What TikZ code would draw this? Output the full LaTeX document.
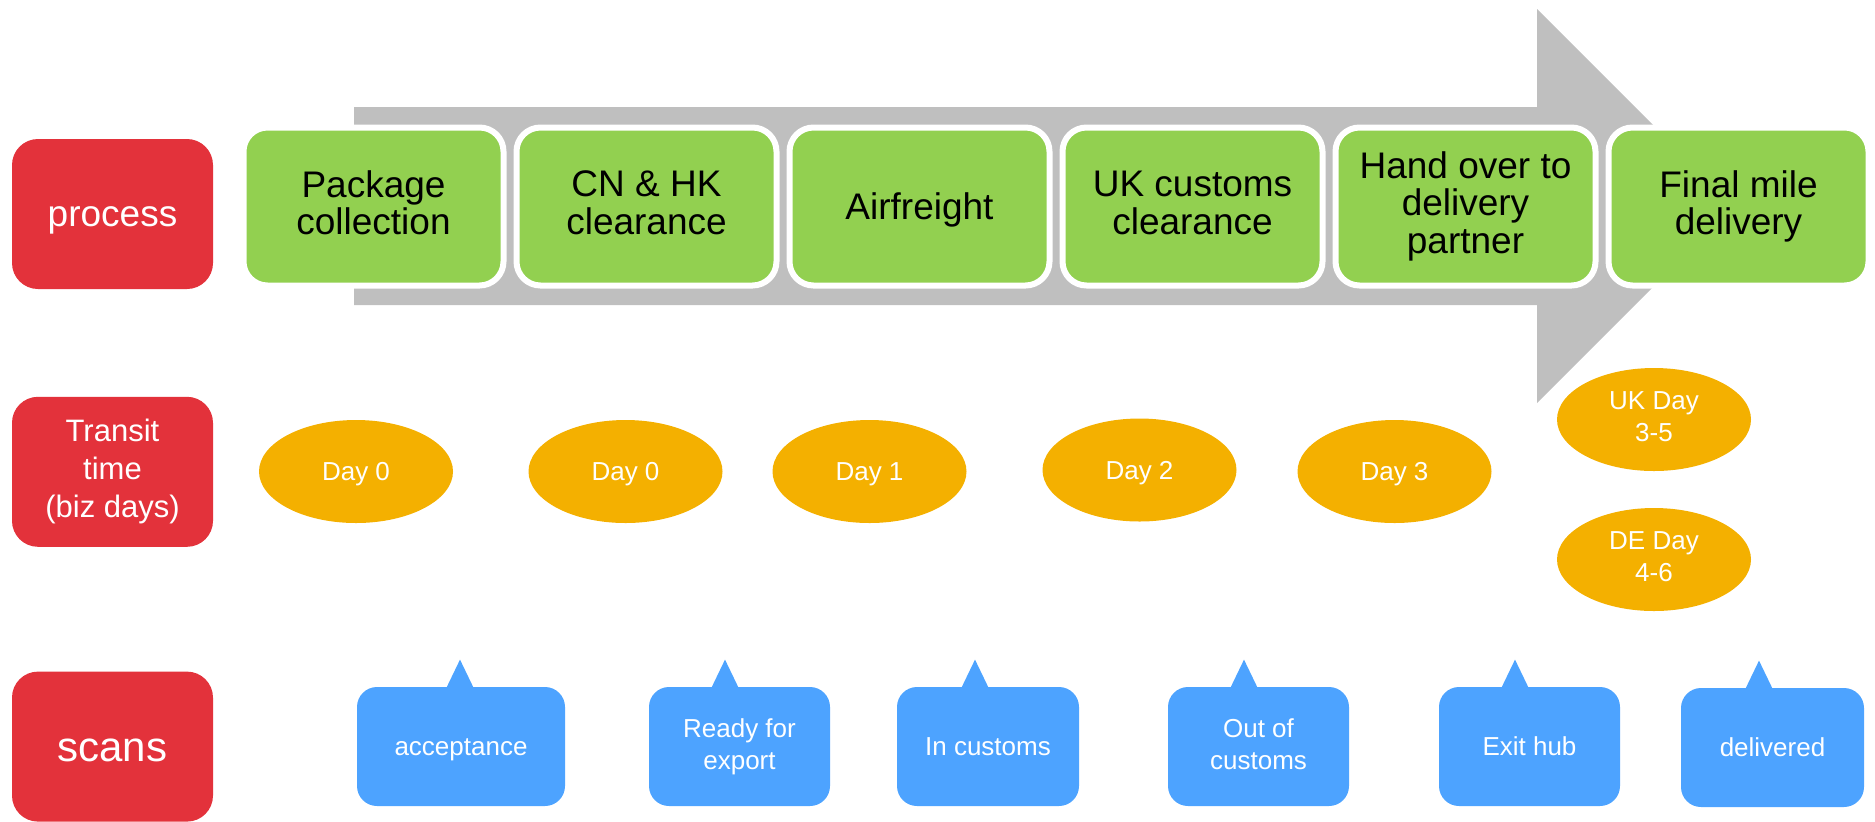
\documentclass[tikz,border=0pt]{standalone}
\usepackage{fontspec}
\setmainfont{Liberation Sans}
\usepackage{tikz}
\usetikzlibrary{positioning,shapes.geometric,calc}
\definecolor{labelred}{RGB}{227,50,59}
\definecolor{stepgreen}{RGB}{146,208,80}
\definecolor{flowgray}{RGB}{191,191,191}
\definecolor{dayorange}{RGB}{244,176,0}
\definecolor{scanblue}{RGB}{77,163,255}
\newcommand{\topstrut}{\rule{0pt}{0.905em}}
\newcommand{\botstrut}{\rule[-0.212em]{0pt}{0.212em}}

\begin{document}
\begin{tikzpicture}[x=0.5pt, y=-0.5pt,
    every node/.append style={execute at begin node=\topstrut, execute at end node=\botstrut},
    rowlabel/.style={rounded corners=13pt, fill=labelred, text=white, align=center, minimum width=100.5pt, minimum height=75pt, inner sep=0pt},
    stepbox/.style={rounded corners=12pt, fill=stepgreen, draw=white, line width=3pt, outer sep=0pt, align=center, minimum width=130pt, minimum height=79pt, inner sep=0pt, font=\fontsize{18.5}{18.9}\selectfont},
    dayblob/.style={ellipse, fill=dayorange, text=white, align=center, minimum width=97pt, minimum height=51.5pt, inner sep=0pt, font=\fontsize{13}{16}\selectfont},
    scanbox/.style={rounded corners=10pt, fill=scanblue, text=white, align=center, minimum height=59.5pt, inner sep=0pt, font=\fontsize{13}{16}\selectfont}
]
\useasboundingbox (0,0) rectangle (1875,821);

\fill[flowgray] (354,107) -- (1537,107) -- (1537,9) -- (1734,206) -- (1537,403) -- (1537,305) -- (354,305) -- cycle;

\node[rowlabel, font=\fontsize{18.5}{19}\selectfont] (process) at (112.5,214) {process};
\node[rowlabel, below=53.5pt of process, font=\fontsize{15.5}{19.1}\selectfont] (transit) {Transit\\time\\(biz days)};
\node[rowlabel, below=62pt of transit, font=\fontsize{21}{24}\selectfont] (scans) {scans};

\node[stepbox] (collect) at (373.5,206.5) {Package\\collection};
\node[stepbox, right=6.5pt of collect] (clear) {CN \& HK\\clearance};
\node[stepbox, right=6.5pt of clear] (air) {Airfreight};
\node[stepbox, right=6.5pt of air] (ukcust) {UK customs\\clearance};
\node[stepbox, right=6.5pt of ukcust] (handover) {Hand over to\\delivery\\partner};
\node[stepbox, right=6.5pt of handover] (final) {Final mile\\delivery};

\node[dayblob] (daycollect) at (356,471.5) {Day 0};
\node[dayblob] (dayclear) at (625.5,471.5) {Day 0};
\node[dayblob] (dayair) at (869.5,471.5) {Day 1};
\node[dayblob] (dayukcust) at (1139.5,470) {Day 2};
\node[dayblob] (dayhand) at (1394.5,471.5) {Day 3};
\node[dayblob] (dayuk) at (1654,419.5) {UK Day\\3-5};
\node[dayblob] (dayde) at (1654,559.5) {DE Day\\4-6};

\node[scanbox, minimum width=104pt] (accept) at (461,746.5) {acceptance};
\node[scanbox, minimum width=90.5pt] (export) at (739.5,746.5) {Ready for\\export};
\node[scanbox, minimum width=91pt] (incust) at (988,746.5) {In customs};
\node[scanbox, minimum width=90.5pt] (outcust) at (1258.5,746.5) {Out of\\customs};
\node[scanbox, minimum width=90.5pt] (exithub) at (1529.5,746.5) {Exit hub};
\node[scanbox, minimum width=91.5pt] (deliv) at (1772.5,747.5) {delivered};

\foreach \s/\dx in {accept/-1, export/-14.5, incust/-13, outcust/-14.5, exithub/-14.5, deliv/-13.5}
  \fill[scanblue] ($(\s.north)+(\dx-13.5,1)$) -- ($(\s.north)+(\dx,-27)$) -- ($(\s.north)+(\dx+13.5,1)$) -- cycle;
\end{tikzpicture}
\end{document}
